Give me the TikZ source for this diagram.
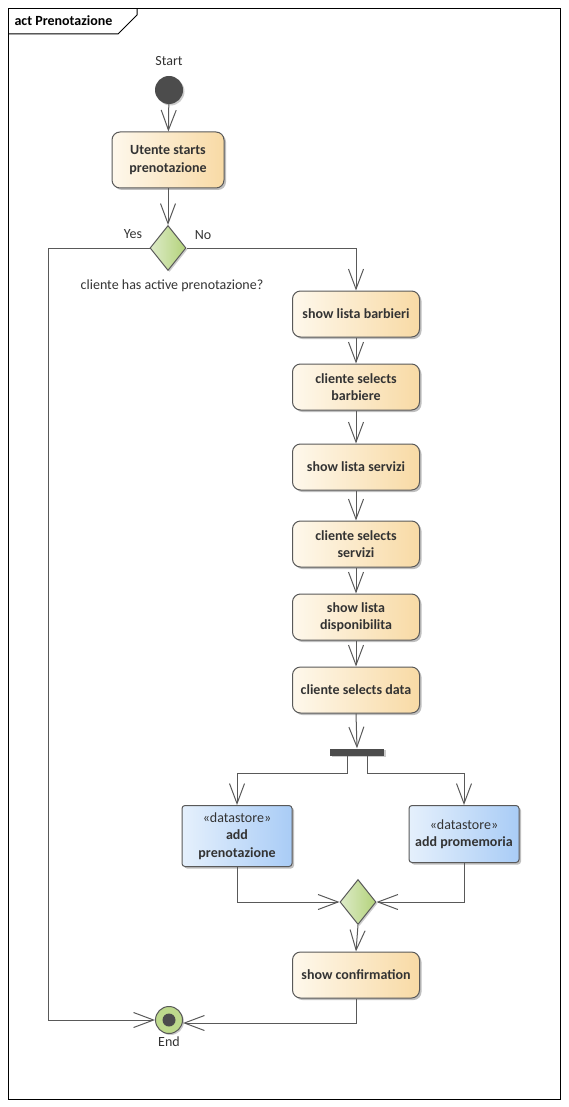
\documentclass[tikz,border=0pt]{standalone}
\usepackage{fontspec}
\setmainfont{Carlito}
\usetikzlibrary{arrows.meta,shapes.geometric,shadows}
\definecolor{linegray}{HTML}{595959}
\definecolor{txtgray}{HTML}{333333}
\definecolor{dotgray}{HTML}{4C4C4C}
\definecolor{actL}{HTML}{FEF8EC}
\definecolor{actR}{HTML}{F8DAA5}
\definecolor{storeL}{HTML}{E5F0FC}
\definecolor{storeR}{HTML}{A9CCF6}
\definecolor{decL}{HTML}{DDEBC8}
\definecolor{decR}{HTML}{B3D27A}
\definecolor{endG}{HTML}{BDD98C}
\tikzset{
  act/.style={draw=linegray, line width=1pt, rounded corners=8pt, left color=actL, right color=actR,
    minimum width=127pt, minimum height=46pt, align=center, text=txtgray,
    font=\fontsize{14}{17.5}\selectfont\bfseries,
    drop shadow={shadow xshift=2pt, shadow yshift=-2pt, opacity=0.25, fill=black}},
  store/.style={act, rounded corners=3pt, left color=storeL, right color=storeR, minimum width=110pt},
  decide/.style={diamond, draw=linegray, line width=1pt, left color=decL, right color=decR,
    minimum width=36pt, minimum height=45pt, inner sep=0pt,
    drop shadow={shadow xshift=1.5pt, shadow yshift=-1.5pt, opacity=0.2, fill=black}},
  lbl/.style={text=txtgray, font=\fontsize{14}{17.5}\selectfont},
  flow/.style={draw=linegray, line width=1pt, -{Straight Barb[length=20pt, width=15pt, line width=1pt]}},
}
\begin{document}
\begin{tikzpicture}[x=1pt, y=-1pt]
\useasboundingbox (0,0) rectangle (568,1107);
\def\mid{169}
\def\col{356}
% frame
\draw [line width=1pt, draw=black] (8,9) rectangle (560,1099);
\draw [line width=1pt, draw=black] (8,34) -- (118,34) -- (137,15) -- (137,9);
\node[anchor=west, text=black, font=\fontsize{14}{17.5}\selectfont\bfseries] (title) at (11,21) {act Prenotazione};

\node[circle, fill=dotgray, minimum size=28pt, inner sep=0pt,
  drop shadow={shadow xshift=1.5pt, shadow yshift=-1.5pt, opacity=0.2, fill=black}] (start) at (\mid, 90) {};
\node[lbl] (startlbl) at (\mid, 61) {Start};
\node[act, minimum width=112pt, minimum height=56pt] (utente) at (168, 160) {Utente starts\\prenotazione};
\node[decide] (dec) at (168, 248) {};
\node[lbl] (yes) at (133, 234) {Yes};
\node[lbl] (no) at (203, 235) {No};
\node[lbl] (question) at (172, 286) {cliente has active prenotazione?};
\coordinate (yesbend) at (48, 248);

\node[act] (barb) at (\col, 314) {show lista barbieri};
\node[act] (selbarb) at (\col, 387) {cliente selects\\barbiere};
\node[act] (serv) at (\col, 467) {show lista servizi};
\node[act] (selserv) at (\col, 544) {cliente selects\\servizi};
\node[act] (disp) at (\col, 617) {show lista\\disponibilita};
\node[act] (seldata) at (\col, 690) {cliente selects data};
\node[fill=dotgray, minimum width=54pt, minimum height=7pt, inner sep=0pt,
  drop shadow={shadow xshift=1.5pt, shadow yshift=-1.5pt, opacity=0.2, fill=black}] (fork) at (357, 752) {};

\node[store, minimum height=61pt] (storeA) at (237, 836) {{\mdseries «datastore»}\\add\\prenotazione};
\node[store, minimum height=57pt] (storeB) at (464, 834) {{\mdseries «datastore»}\\add promemoria};
\node[decide] (merge) at (358, 902) {};
\node[act] (conf) at (\col, 975) {show confirmation};

\node[circle, draw=linegray, line width=1pt, fill=endG, minimum size=27pt, inner sep=0pt,
  drop shadow={shadow xshift=1.5pt, shadow yshift=-1.5pt, opacity=0.2, fill=black}] (end) at (\mid, 1020) {};
\fill [dotgray] (end.center) circle (6.5);
\node[lbl] (endlbl) at (\mid, 1042) {End};

% edges
\path[flow] (start) edge (utente);
\path[flow] (utente) edge (dec);
\draw[flow] (dec.east) -| (barb.north);
\draw[flow] (dec.west) -- (yesbend) |- (end.west);
\path[flow] (barb) edge (selbarb);
\path[flow] (selbarb) edge (serv);
\path[flow] (serv) edge (selserv);
\path[flow] (selserv) edge (disp);
\path[flow] (disp) edge (seldata);
\draw[flow] (seldata.south) -- (fork.north);
\draw[flow] ([xshift=-10pt]fork.south) -- ++(0,18) -| (storeA.north);
\draw[flow] ([xshift=10pt]fork.south) -- ++(0,18) -| (storeB.north);
\draw[flow] (storeA.south) |- (merge.west);
\draw[flow] (storeB.south) |- (merge.east);
\draw[flow] (merge.south) -- (conf.north);
\draw[flow] (conf.south) |- ([yshift=-3pt]end.east);
\end{tikzpicture}
\end{document}
